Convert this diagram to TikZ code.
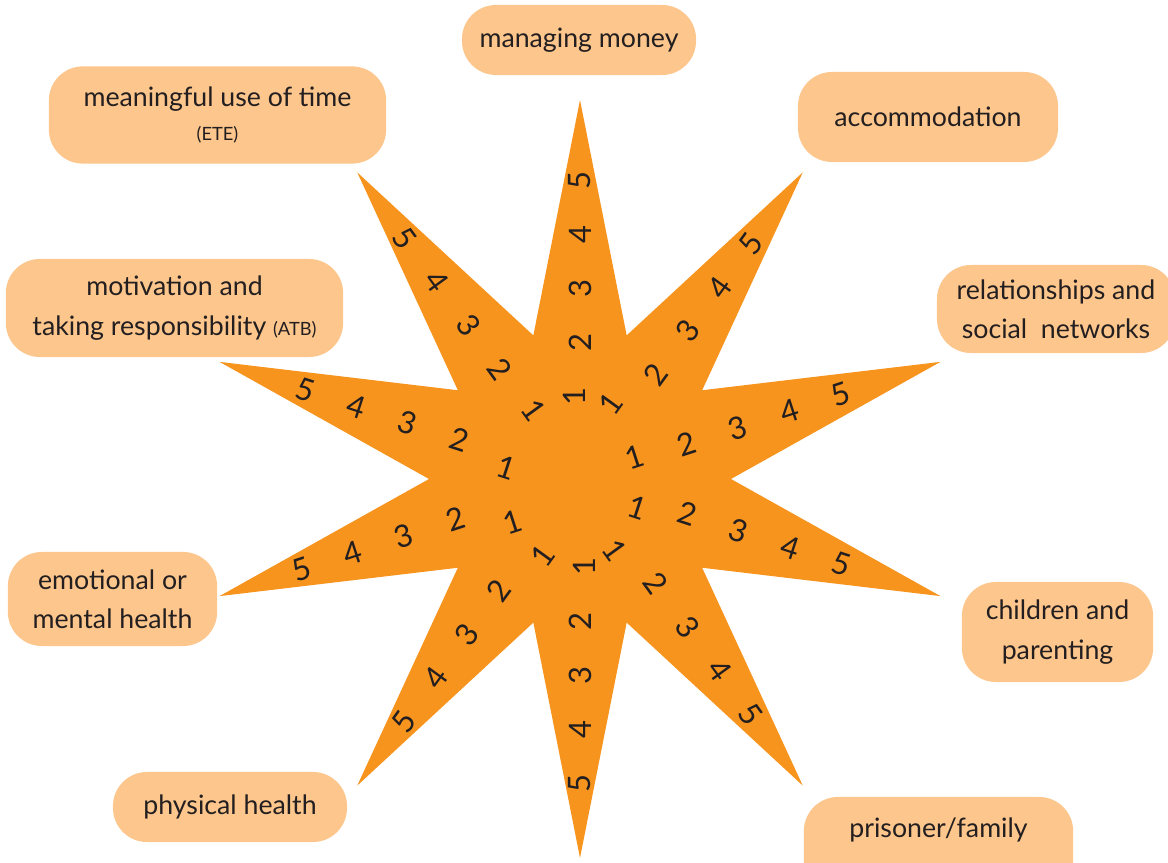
\documentclass[tikz,border=0pt]{standalone}
\usepackage{fontspec}
\setmainfont{Lato}
\usetikzlibrary{calc}
\definecolor{ink}{HTML}{231F20}
\definecolor{sunfill}{HTML}{F7941E}
\definecolor{tagfill}{HTML}{FDC68C}
\newcommand{\abbr}[1]{{\fontsize{13}{13}\selectfont #1}}
\tikzset{
  sun/.style={fill=sunfill},
  tag/.style={fill=tagfill, rounded corners=0.85cm, text=ink, align=center,
    inner sep=0pt, font=\fontsize{19}{28}\selectfont},
  digit/.style={text=ink, inner sep=0pt, font=\fontsize{22}{22}\selectfont},
}

\begin{document}
\begin{tikzpicture}[x=0.025cm, y=0.025cm]
  \useasboundingbox (0,0) rectangle (1168,862);
  \clip (0,0) rectangle (1168,862);
  \coordinate (C) at (580,383);

  % the star
  \fill[sun] ($(C)+(90:379)$)
    \foreach \a in {90,126,...,414} { -- ($(C)+({\a+18}:151)$) -- ($(C)+({\a+36}:379)$) } -- cycle;

  % scores along the rays
  \foreach \a/\r/\t in {90/136/90, 54/129/54, 18/112/18, -18/113/-18, -54/129/-54,
                        -90/143/90, -126/138/54, -162/131/18, 162/127/-18, 126/136/-54}
    \foreach \n in {2,...,5}
      \node[digit, rotate=\t] (d\a-\n) at ($(C)+(\a:{\r+54*(\n-2)})$) {\n};
  \foreach \a/\r/\t in {94/83/90, 68/81/54, 22/59/18, -27/64/-18, -64/79/-54,
                        -87/88/90, -116/85/54, -147/80/18, 171/74/-18, 124/83/-54}
    \node[digit, rotate=\t] (o\a) at ($(C)+(\a:\r)$) {1};

  % outcome areas
  \node[tag, minimum width=5.85cm, minimum height=1.75cm] (money) at (579,822) {managing money};
  \node[tag, minimum width=8.43cm, minimum height=2.43cm] (time) at (217.5,747)
    {meaningful use of time\\[-4pt]\abbr{(ETE)}};
  \node[tag, minimum width=6.5cm, minimum height=2.25cm] (accom) at (928,745) {accommodation};
  \node[tag, minimum width=8.43cm, minimum height=2.45cm] (motiv) at (174.5,554)
    {motivation and\\taking responsibility \abbr{(ATB)}};
  \node[tag, minimum width=5.95cm, minimum height=2.2cm] (social) at (1056,553)
    {relationships and\\social~ networks};
  \node[tag, minimum width=5.23cm, minimum height=2.35cm] (mental) at (112.5,263)
    {emotional or\\mental health};
  \node[tag, minimum width=4.78cm, minimum height=2.5cm] (child) at (1057.5,230)
    {children and\\parenting};
  \node[tag, minimum width=5.85cm, minimum height=1.75cm] (body) at (230,55) {physical health};
  \node[tag, minimum width=6.73cm, minimum height=2.5cm] (prison) at (938.5,15)
    {prisoner/family\\\phantom{x}};
\end{tikzpicture}
\end{document}
